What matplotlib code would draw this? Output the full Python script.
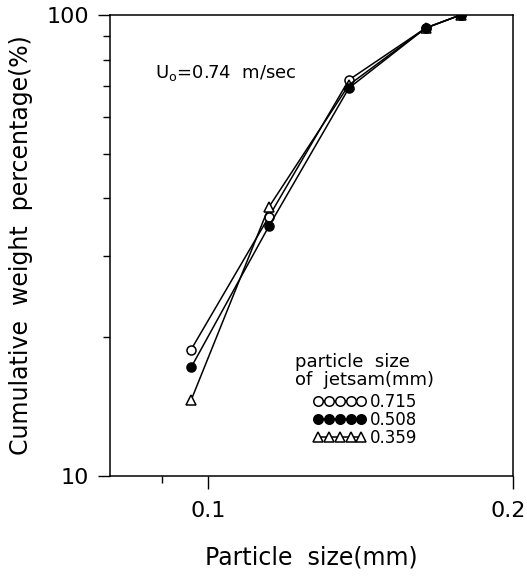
import matplotlib
matplotlib.use("Agg")
import matplotlib.pyplot as plt
from matplotlib.ticker import FixedLocator, NullFormatter
import matplotlib.transforms as mtransforms

plt.rcParams['font.family'] = ['DejaVu Sans']

particle_size = [0.0962, 0.1148, 0.1377, 0.164, 0.1775]
cum_0715 = [18.8, 36.5, 72.3, 93.7, 100.0]
cum_0508 = [17.2, 34.8, 69.4, 93.7, 100.0]
cum_0359 = [14.6, 38.3, 70.5, 93.7, 100.0]
series_labels = ["0.715", "0.508", "0.359"]

fig = plt.figure(figsize=(5.27, 5.76), dpi=100)
ax = fig.add_axes([110/527, 1-476/576, (513-110)/527, (476-15)/576])

styles = [
    dict(marker='o', mfc='white', mec='black', zorder=3),
    dict(marker='o', mfc='black', mec='black', zorder=5),
    dict(marker='^', mfc='white', mec='black', zorder=4),
]
for ys, lab, st in zip([cum_0715, cum_0508, cum_0359], series_labels, styles):
    ax.plot(particle_size, ys, color='black', lw=1.1, ms=6.5, mew=1.1,
            label=lab, **st)

ax.set_xscale('log')
ax.set_yscale('log')
ax.set_xlim(0.08, 0.2)
ax.set_ylim(10, 100)

ax.xaxis.set_major_locator(FixedLocator([0.1, 0.2]))
ax.xaxis.set_minor_locator(FixedLocator([0.09]))
ax.set_xticklabels(['0.1', '0.2'])
ax.xaxis.set_minor_formatter(NullFormatter())
ax.yaxis.set_major_locator(FixedLocator([10, 100]))
ax.yaxis.set_minor_locator(FixedLocator([20, 30, 40, 50, 60, 70, 80, 90]))
ax.set_yticklabels(['10', '100'])
ax.yaxis.set_minor_formatter(NullFormatter())

ax.tick_params(which='major', direction='out', length=9, width=1.0,
               labelsize=16, pad=6)
ax.tick_params(axis='x', which='major', pad=9)
ax.tick_params(which='minor', direction='out', length=5, width=1.0)
for s in ax.spines.values():
    s.set_linewidth(1.1)

# nudge the right-most x tick label inward so it stays on the canvas
lbl = ax.get_xticklabels()[-1]
lbl.set_transform(lbl.get_transform() +
                  mtransforms.ScaledTranslation(-5/100, 0, fig.dpi_scale_trans))

ax.set_xlabel('Particle  size(mm)', fontsize=17, labelpad=18)
ax.set_ylabel('Cumulative  weight  percentage(%)', fontsize=17, labelpad=10)

ax.text(0.112, 0.875, r'U$_\mathrm{o}$=0.74  m/sec', transform=ax.transAxes,
        fontsize=13, va='center', ha='left')

ax.text(0.459, (476-362)/461, 'particle  size', transform=ax.transAxes,
        fontsize=13, va='center', ha='left')
ax.text(0.459, (476-380)/461, 'of  jetsam(mm)', transform=ax.transAxes,
        fontsize=13, va='center', ha='left')

leg = ax.legend(numpoints=5, handlelength=3.2, markerscale=1.05,
                frameon=False, fontsize=12, loc='upper left',
                bbox_to_anchor=(0.504, (476-393)/461), labelspacing=0.0,
                handletextpad=0.2, borderpad=0.0, borderaxespad=0.0)

fig.savefig('out.png', dpi=100)
